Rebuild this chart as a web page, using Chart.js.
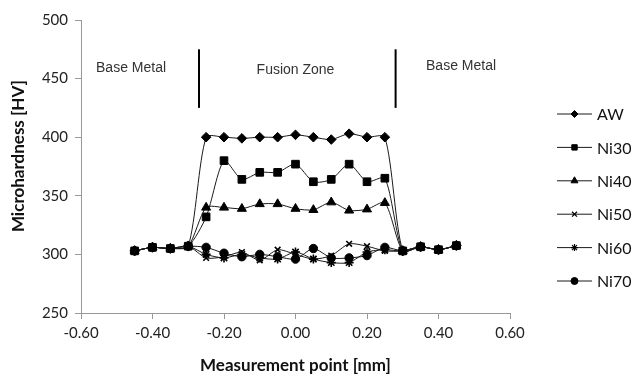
<!DOCTYPE html>
<html>
<head>
<meta charset="utf-8">
<script src="https://cdn.jsdelivr.net/npm/chart.js@4/dist/chart.umd.min.js"></script>
<style>
  html, body { margin: 0; padding: 0; background: #fff; }
  #c { display: block; }
</style>
</head>
<body>
<canvas id="c" width="633" height="376"></canvas>
<script>
// ---- Data ----
const positions = [-0.45, -0.40, -0.35, -0.30, -0.25, -0.20, -0.15, -0.10, -0.05, 0.00, 0.05, 0.10, 0.15, 0.20, 0.25, 0.30, 0.35, 0.40, 0.45];
const seriesNames = ['AW', 'Ni30', 'Ni40', 'Ni50', 'Ni60', 'Ni70'];
const hvAW   = [303, 306, 305, 307, 400, 400, 399, 400, 400, 402, 400, 398, 403, 400, 400, 303, 306.5, 304, 307.5];
const hvNi30 = [303, 306, 305, 307, 332, 380, 364, 370, 370, 377, 362, 364, 377, 362, 365, 303, 306.5, 304, 307.5];
const hvNi40 = [303, 306, 305, 307, 340, 340, 339, 343, 343, 339, 338, 344.5, 337.5, 338.5, 344, 303, 306.5, 304, 307.5];
const hvNi50 = [303, 306, 305, 307, 297, 298, 302, 295, 304, 300, 296, 299, 309, 307, 303, 303, 306.5, 304, 307.5];
const hvNi60 = [303, 306, 305, 307, 300, 297, 300, 297, 296, 302, 296, 293, 293, 302, 304, 303, 306.5, 304, 307.5];
const hvNi70 = [303, 306, 305, 307, 306, 301, 298, 300, 298, 296, 305, 297, 297, 299, 306, 303, 306.5, 304, 307.5];
const xTicks = [-0.60, -0.40, -0.20, 0.00, 0.20, 0.40, 0.60];
const yTicks = [250, 300, 350, 400, 450, 500];
// zone boundaries and labels (data coordinates)
const boundaryX = [-0.27, 0.28];
const boundaryY = [425, 475];
const zoneLabels = ['Base Metal', 'Fusion Zone', 'Base Metal'];
const zoneLabelX = [-0.46, 0.00, 0.463];
const zoneLabelY = [458.5, 457, 460.5];

// ---- Styles ----
const markerStyles = ['rectRot', 'rect', 'triangle', 'crossRot', 'star', 'circle'];
const markerRadius = [4.8, 5.4, 5.2, 4, 4.5, 4.2];
const legendRadius = [3.5, 3.8, 4, 3.5, 3.5, 3.5];
const seriesValues = [hvAW, hvNi30, hvNi40, hvNi50, hvNi60, hvNi70];

const datasets = seriesNames.map((name, i) => ({
  label: name,
  data: positions.map((x, k) => ({ x: x, y: seriesValues[i][k] })),
  borderColor: '#1a1a1a',
  backgroundColor: '#000',
  borderWidth: 1,
  pointStyle: markerStyles[i],
  pointRadius: markerRadius[i],
  pointBorderColor: '#000',
  pointBackgroundColor: '#000',
  pointBorderWidth: (markerStyles[i] === 'crossRot' || markerStyles[i] === 'star') ? 1.6 : 1,
  tension: 0.25,
  fill: false,
  order: 10 - i
}));

boundaryX.forEach((bx) => {
  datasets.push({
    label: '__boundary',
    data: boundaryY.map(y => ({ x: bx, y: y })),
    borderColor: '#000',
    borderWidth: 2,
    pointRadius: 0,
    tension: 0,
    fill: false
  });
});

const tickFont = { family: 'Lato', size: 15 };

const annotationPlugin = {
  id: 'zoneText',
  afterDatasetsDraw(chart) {
    const { ctx, scales: { x, y } } = chart;
    ctx.save();
    ctx.font = '14px "Liberation Sans", Arial, sans-serif';
    ctx.fillStyle = '#333';
    ctx.textAlign = 'center';
    ctx.textBaseline = 'middle';
    zoneLabels.forEach((t, i) => {
      ctx.fillText(t, x.getPixelForValue(zoneLabelX[i]), y.getPixelForValue(zoneLabelY[i]));
    });
    ctx.restore();
  }
};

const legendPlugin = {
  id: 'sideLegend',
  afterDraw(chart) {
    const { ctx } = chart;
    const x0 = 557, x1 = 592, xm = 574.5, tx = 597;
    const top = 114, step = 33.4;
    ctx.save();
    seriesNames.forEach((name, i) => {
      const yy = top + i * step;
      ctx.strokeStyle = '#1a1a1a';
      ctx.lineWidth = 1;
      ctx.beginPath();
      ctx.moveTo(x0, yy);
      ctx.lineTo(x1, yy);
      ctx.stroke();
      ctx.fillStyle = '#000';
      ctx.strokeStyle = '#000';
      ctx.lineWidth = (markerStyles[i] === 'crossRot' || markerStyles[i] === 'star') ? 1.2 : 1;
      Chart.helpers.drawPoint(ctx, { pointStyle: markerStyles[i], radius: legendRadius[i], rotation: 0, borderWidth: ctx.lineWidth }, xm, yy);
      ctx.fillStyle = '#111';
      ctx.font = '16px Lato, sans-serif';
      ctx.textAlign = 'left';
      ctx.textBaseline = 'middle';
      ctx.fillText(name, tx, yy + 1);
    });
    ctx.restore();
  }
};

new Chart(document.getElementById('c'), {
  type: 'line',
  data: { datasets: datasets },
  options: {
    responsive: false,
    animation: false,
    layout: { padding: { left: 0, right: 123, top: 20, bottom: 0 } },
    plugins: {
      legend: { display: false },
      tooltip: { enabled: false }
    },
    scales: {
      x: {
        type: 'linear',
        min: xTicks[0],
        max: xTicks[xTicks.length - 1],
        afterBuildTicks(scale) { scale.ticks = xTicks.map(v => ({ value: v })); },
        afterFit(scale) { scale.height = 63; },
        grid: { drawOnChartArea: false, color: '#999', tickLength: 6, tickWidth: 1 },
        border: { color: '#999', width: 1 },
        ticks: {
          font: tickFont, color: '#222', padding: 5, maxRotation: 0,
          callback: (v) => (Math.abs(v) < 1e-9 ? 0 : v).toFixed(2)
        },
        title: {
          display: true, text: 'Measurement point [mm]', color: '#111',
          font: { family: 'Lato', size: 17, weight: 'bold' },
          padding: { top: 0, bottom: 0 }
        }
      },
      y: {
        min: yTicks[0],
        max: yTicks[yTicks.length - 1],
        afterBuildTicks(scale) { scale.ticks = yTicks.map(v => ({ value: v })); },
        afterFit(scale) { scale.width = 81; },
        grid: { drawOnChartArea: false, color: '#999', tickLength: 6, tickWidth: 1 },
        border: { color: '#999', width: 1 },
        ticks: { font: tickFont, color: '#222', padding: 7 },
        title: {
          display: true, text: '     Microhardness [HV]', color: '#111',
          font: { family: 'Lato', size: 17, weight: 'bold' },
          padding: { top: 8, bottom: 0 }
        }
      }
    }
  },
  plugins: [annotationPlugin, legendPlugin]
});
</script>
</body>
</html>
